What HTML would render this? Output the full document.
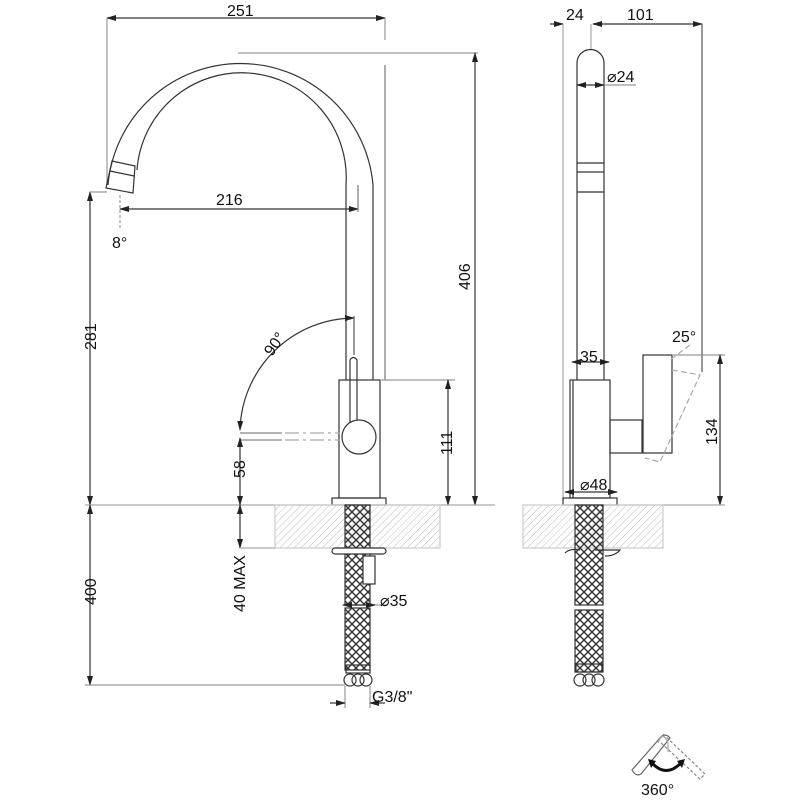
<!DOCTYPE html>
<html><head><style>body{margin:0;background:#fff}svg{display:block}text{font-family:"Liberation Sans",sans-serif;font-size:16px;fill:#111}</style></head>
<body>
<svg width="800" height="800" viewBox="0 0 800 800" xmlns="http://www.w3.org/2000/svg">
<defs>
<pattern id="h" width="5" height="5" patternUnits="userSpaceOnUse" patternTransform="rotate(45)"><line x1="0" y1="0" x2="0" y2="5" stroke="#bbb" stroke-width="1"/></pattern>
<pattern id="x" width="8" height="8" patternUnits="userSpaceOnUse"><path d="M0 0L8 8M8 0L0 8" stroke="#333" stroke-width="1.4"/></pattern>
<marker id="a" markerWidth="10" markerHeight="8" refX="9" refY="4" orient="auto-start-reverse" markerUnits="userSpaceOnUse"><path d="M0 1L10 4L0 7z" fill="#222"/></marker>
</defs>
<g fill="none" stroke="#333" stroke-width="1.2">
<!-- LEFT VIEW -->
<line x1="107" y1="18" x2="385" y2="18" marker-start="url(#a)" marker-end="url(#a)"/>
<line x1="107" y1="18" x2="107" y2="185" stroke="#999"/>
<line x1="385" y1="18" x2="385" y2="40" stroke="#999"/>
<line x1="385" y1="65" x2="385" y2="380" stroke="#777"/>
<path d="M108 185 A133 133 0 0 1 373 185 V380"/>
<path d="M137 170 A104 104 0 0 1 346 185 V380"/>
<path d="M112 161 L135 166 L133 193 L106 188 Z"/>
<line x1="110" y1="171" x2="134" y2="176"/>
<line x1="238" y1="53" x2="478" y2="53" stroke="#999"/>
<line x1="475" y1="53" x2="475" y2="505" marker-start="url(#a)" marker-end="url(#a)"/>
<line x1="120" y1="209" x2="358" y2="209" marker-start="url(#a)" marker-end="url(#a)"/>
<line x1="358" y1="185" x2="358" y2="212" stroke="#777"/>
<line x1="120" y1="195" x2="120" y2="230" stroke="#999" stroke-dasharray="3 2"/>
<line x1="90" y1="192" x2="90" y2="505" marker-start="url(#a)" marker-end="url(#a)"/>
<line x1="90" y1="192" x2="107" y2="192" stroke="#999"/>
<rect x="339" y="380" width="41" height="118"/>
<line x1="380" y1="380" x2="455" y2="380" stroke="#999"/>
<line x1="448" y1="380" x2="448" y2="505" marker-start="url(#a)" marker-end="url(#a)"/>
<path d="M350 430 V360 Q353 355 357 360 V420"/>
<circle cx="359" cy="437" r="17" fill="#fff"/>
<path d="M240 433H282M240 440H282" stroke="#888"/>
<path d="M285 433H340M285 440H340" stroke="#aaa" stroke-dasharray="14 4 3 4"/>
<path d="M354 318 A115 115 0 0 0 240 430" marker-start="url(#a)" marker-end="url(#a)"/>
<line x1="354" y1="316" x2="354" y2="355" stroke="#555"/>
<rect x="332" y="498" width="54" height="7"/>
<line x1="85" y1="505" x2="495" y2="505" stroke="#aaa"/>
<rect x="275" y="505" width="165" height="43" fill="url(#h)" stroke="#ccc"/>
<line x1="240" y1="438" x2="240" y2="505" marker-start="url(#a)" marker-end="url(#a)"/>
<line x1="240" y1="505" x2="240" y2="548" marker-start="url(#a)" marker-end="url(#a)"/>
<line x1="240" y1="548" x2="275" y2="548" stroke="#aaa"/>
<line x1="90" y1="505" x2="90" y2="685" marker-start="url(#a)" marker-end="url(#a)"/>
<line x1="85" y1="685" x2="345" y2="685" stroke="#999"/>
<rect x="345" y="505" width="25" height="100" fill="url(#x)"/>
<rect x="345" y="608" width="25" height="62" fill="url(#x)"/>
<rect x="332" y="548" width="54" height="6" rx="3" fill="#fff"/>
<rect x="363" y="556" width="12" height="28" fill="#fff"/>
<line x1="343" y1="605" x2="375" y2="605" marker-start="url(#a)" marker-end="url(#a)"/>
<line x1="375" y1="605" x2="388" y2="605" stroke="#999"/>
<rect x="346" y="665" width="24" height="8"/>
<circle cx="350" cy="680" r="6"/><circle cx="358" cy="680" r="6"/><circle cx="366" cy="680" r="6"/>
<line x1="345" y1="686" x2="345" y2="708" stroke="#999"/><line x1="370" y1="686" x2="370" y2="708" stroke="#999"/>
<line x1="330" y1="703" x2="345" y2="703" marker-end="url(#a)"/>
<line x1="385" y1="703" x2="370" y2="703" marker-end="url(#a)"/>
<!-- RIGHT VIEW -->
<line x1="550" y1="24" x2="563" y2="24" marker-end="url(#a)"/>
<line x1="593" y1="24" x2="702" y2="24" marker-start="url(#a)" marker-end="url(#a)"/>
<line x1="563" y1="24" x2="563" y2="500" stroke="#aaa"/>
<line x1="591" y1="24" x2="591" y2="50" stroke="#aaa"/>
<line x1="702" y1="24" x2="702" y2="372" stroke="#555"/>
<path d="M577 380 V63 A13 13 0 0 1 604 63 V380"/>
<path d="M577 163H604M577 172H604M577 192H604"/>
<line x1="577" y1="85" x2="604" y2="85" marker-start="url(#a)" marker-end="url(#a)"/>
<line x1="604" y1="85" x2="636" y2="85" stroke="#999"/>
<rect x="570" y="380" width="40" height="118"/>
<line x1="573" y1="380" x2="573" y2="498"/>
<line x1="572" y1="362" x2="609" y2="362" marker-start="url(#a)" marker-end="url(#a)"/>
<rect x="610" y="420" width="32" height="33"/>
<rect x="643" y="355" width="29" height="98"/>
<path d="M672 370 L700 375 L660 462 L645 458 M690 345 L670 360" stroke="#aaa" stroke-dasharray="6 3"/>
<line x1="672" y1="355" x2="725" y2="355" stroke="#999"/>
<line x1="720" y1="355" x2="720" y2="505" marker-start="url(#a)" marker-end="url(#a)"/>
<line x1="565" y1="492" x2="617" y2="492" marker-start="url(#a)" marker-end="url(#a)"/>
<rect x="563" y="498" width="54" height="7"/>
<line x1="617" y1="505" x2="725" y2="505" stroke="#aaa"/>
<rect x="523" y="505" width="140" height="43" fill="url(#h)" stroke="#ccc"/>
<rect x="575" y="505" width="28" height="100" fill="url(#x)"/>
<rect x="575" y="610" width="28" height="62" fill="url(#x)"/>
<path d="M565 553 Q570 548 580 550 M595 550 H620 Q615 556 605 556"/>
<rect x="576" y="664" width="26" height="8"/>
<circle cx="580" cy="680" r="6"/><circle cx="589" cy="680" r="6"/><circle cx="598" cy="680" r="6"/>
<!-- 360 icon -->
<path d="M632 770 L660 738 Q665 732 670 738 L641 774 Q636 777 632 770 Z" stroke="#666"/>
<path d="M663 734 L705 774 L700 779 L660 742" stroke="#888" stroke-dasharray="3 2"/>
<path d="M658 743 Q663 730 668 743 V752" stroke="#aaa"/>
<path d="M652 763 Q666 778 681 763" stroke="#111" stroke-width="3"/>
<path d="M648 759 L656 761 L651 768 Z M685 759 L677 761 L682 768 Z" fill="#111" stroke="none"/>
</g>
<text x="227" y="16">251</text>
<text x="216" y="205">216</text>
<text x="112" y="248" font-size="13">8°</text>
<text transform="translate(470,290) rotate(-90)">406</text>
<text transform="translate(96,350) rotate(-90)">281</text>
<text transform="translate(452,455) rotate(-90)">111</text>
<text transform="translate(272,357) rotate(-55)">90°</text>
<text transform="translate(245,478) rotate(-90)">58</text>
<text transform="translate(245,612) rotate(-90)">40 MAX</text>
<text transform="translate(96,605) rotate(-90)">400</text>
<text x="380" y="606">⌀35</text>
<text x="372" y="702">G3/8"</text>
<text x="566" y="20">24</text>
<text x="627" y="20">101</text>
<text x="607" y="82">⌀24</text>
<text x="580" y="362">35</text>
<text x="672" y="342">25°</text>
<text transform="translate(717,445) rotate(-90)">134</text>
<text x="580" y="490">⌀48</text>
<text x="641" y="795">360°</text>
</svg>
</body></html>
